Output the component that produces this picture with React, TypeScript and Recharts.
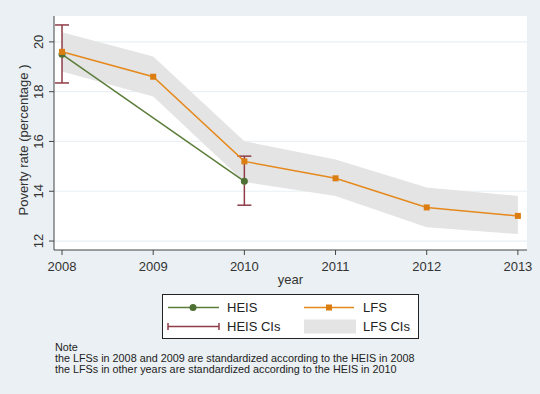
import React from 'react';
import {
  ComposedChart,
  Line,
  Area,
  XAxis,
  YAxis,
  CartesianGrid,
  ErrorBar,
  Legend,
  Label
} from 'recharts';

const years = [2008, 2009, 2010, 2011, 2012, 2013];
const heisRate = [19.5, null, 14.4, null, null, null];
const heisCiLow = [18.35, null, 13.44, null, null, null];
const heisCiHigh = [20.68, null, 15.41, null, null, null];
const lfsRate = [19.6, 18.6, 15.2, 14.52, 13.35, 13.01];
const lfsCiLow = [18.81, 17.81, 14.37, 13.81, 12.55, 12.28];
const lfsCiHigh = [20.39, 19.41, 16.01, 15.28, 14.15, 13.81];
const yTicks = [12, 14, 16, 18, 20];

const chartData = years.map((year, i) => ({
  year,
  heis: heisRate[i],
  heisErr:
    heisRate[i] == null
      ? undefined
      : [heisRate[i]! - heisCiLow[i]!, heisCiHigh[i]! - heisRate[i]!],
  lfs: lfsRate[i],
  lfsBand: [lfsCiLow[i], lfsCiHigh[i]]
}));

const FONT = '"Liberation Sans", Arial, sans-serif';
const BG = '#eaf0f3';
const GREEN = '#5b7d3a';
const ORANGE = '#e5891c';
const MAROON = '#8f3c47';
const BAND = '#e4e4e4';

const YTick = (props: any) => {
  const { x, y, payload } = props;
  return (
    <text
      x={x - 4}
      y={y}
      transform={`rotate(-90 ${x - 4} ${y})`}
      textAnchor="middle"
      fontSize={13}
      fontFamily={FONT}
      fill="#333"
    >
      {payload.value}
    </text>
  );
};

const SquareDot = (props: any) => {
  const { cx, cy, index } = props;
  if (cx == null || cy == null) return <g key={`sq-${index}`} />;
  return <rect key={`sq-${index}`} x={cx - 3} y={cy - 3} width={6} height={6} fill="#dc7d12" />;
};

const CircleDot = (props: any) => {
  const { cx, cy, index, value } = props;
  if (cx == null || cy == null || value == null) return <g key={`ci-${index}`} />;
  return <circle key={`ci-${index}`} cx={cx} cy={cy} r={3.5} fill="#4f7034" />;
};

const LegendBox = () => (
  <div
    style={{
      width: 255,
      height: 43,
      border: '1px solid #222',
      background: '#fff',
      fontFamily: FONT,
      fontSize: 13,
      color: '#222',
      position: 'relative'
    }}
  >
    <svg width={255} height={43} style={{ position: 'absolute', left: 0, top: 0 }}>
      <line x1={5} x2={56} y1={12.5} y2={12.5} stroke={GREEN} strokeWidth={1.5} />
      <circle cx={30} cy={12.5} r={3.5} fill="#4f7034" />
      <line x1={5} x2={56} y1={31.5} y2={31.5} stroke={MAROON} strokeWidth={1.5} />
      <line x1={5} x2={5} y1={28} y2={35} stroke={MAROON} strokeWidth={1.5} />
      <line x1={56} x2={56} y1={28} y2={35} stroke={MAROON} strokeWidth={1.5} />
      <line x1={141} x2={191} y1={12.5} y2={12.5} stroke={ORANGE} strokeWidth={1.5} />
      <rect x={163} y={9.5} width={6} height={6} fill="#dc7d12" />
      <rect x={141} y={24.5} width={52} height={14} fill={BAND} />
    </svg>
    <span style={{ position: 'absolute', left: 64, top: 5 }}>HEIS</span>
    <span style={{ position: 'absolute', left: 200, top: 5 }}>LFS</span>
    <span style={{ position: 'absolute', left: 64, top: 24 }}>HEIS CIs</span>
    <span style={{ position: 'absolute', left: 200, top: 24 }}>LFS CIs</span>
  </div>
);

const App: React.FC = () => {
  return (
    <div
      style={{
        position: 'absolute',
        left: 0,
        top: 0,
        width: 540,
        height: 394,
        background: BG,
        fontFamily: FONT
      }}
    >
      <ComposedChart
        width={540}
        height={394}
        data={chartData}
        margin={{ top: 16, right: 13, left: 0, bottom: 63 }}
      >
        <CartesianGrid vertical={false} fill="#fff" stroke={BG} strokeWidth={1.2} horizontalValues={yTicks} />
        <XAxis
          dataKey="year"
          type="number"
          domain={[2007.912, 2013.1]}
          ticks={years}
          allowDataOverflow
          height={36}
          tickSize={5}
          tickMargin={7}
          stroke="#444"
          tick={{ fontSize: 13, fill: '#333', fontFamily: FONT }}
        >
          <Label
            value="year"
            position="insideBottom"
            offset={2}
            style={{ fontSize: 13, fill: '#333', fontFamily: FONT }}
          />
        </XAxis>
        <YAxis
          type="number"
          domain={[11.64, 21.04]}
          ticks={yTicks}
          allowDataOverflow
          width={54}
          tickSize={5}
          tickMargin={2}
          stroke="#444"
          tick={<YTick />}
        >
          <Label
            content={(p: any) => {
              const vb = p.viewBox;
              const cx = vb.x + 23;
              const cy = vb.y + vb.height / 2 + 7;
              return (
                <text
                  x={cx}
                  y={cy}
                  transform={`rotate(-90 ${cx} ${cy})`}
                  textAnchor="middle"
                  dominantBaseline="central"
                  fontSize={13}
                  fontFamily={FONT}
                  fill="#333"
                >
                  Poverty rate (percentage )
                </text>
              );
            }}
          />
        </YAxis>
        <Area
          dataKey="lfsBand"
          type="linear"
          fill={BAND}
          fillOpacity={1}
          stroke="none"
          isAnimationActive={false}
          activeDot={false}
        />
        <Line
          dataKey="heis"
          type="linear"
          stroke={GREEN}
          strokeWidth={1.5}
          connectNulls
          dot={<CircleDot />}
          activeDot={false}
          isAnimationActive={false}
        >
          <ErrorBar
            dataKey="heisErr"
            direction="y"
            width={7}
            stroke={MAROON}
            strokeWidth={1.5}
            isAnimationActive={false}
          />
        </Line>
        <Line
          dataKey="lfs"
          type="linear"
          stroke={ORANGE}
          strokeWidth={1.5}
          dot={<SquareDot />}
          activeDot={false}
          isAnimationActive={false}
        />
        <Legend
          content={<LegendBox />}
          wrapperStyle={{ position: 'absolute', left: 162, top: 294, width: 257, height: 45, bottom: 'auto' }}
        />
      </ComposedChart>
      <div
        style={{
          position: 'absolute',
          left: 55,
          top: 342,
          fontSize: 10.8,
          lineHeight: '11.2px',
          color: '#222',
          fontFamily: FONT
        }}
      >
        <div>Note</div>
        <div>the LFSs in 2008 and 2009 are standardized according to the HEIS in 2008</div>
        <div>the LFSs in other years are standardized according to the HEIS in 2010</div>
      </div>
    </div>
  );
};

export default App;
